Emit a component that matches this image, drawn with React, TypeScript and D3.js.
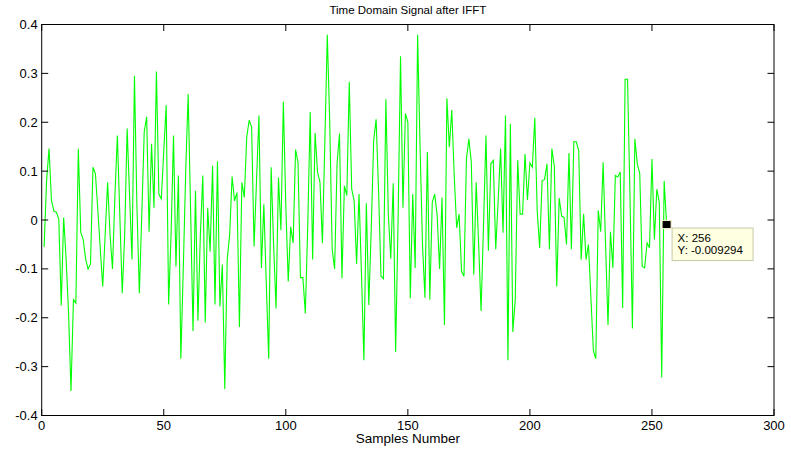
import React from "react";
import * as d3 from "d3";

const signal: number[] = [
  -0.055, 0.08, 0.146, 0.04, 0.018, 0.016, 0.002, -0.175, 0.005, -0.08,
  -0.19, -0.35, -0.163, -0.17, 0.146, -0.025, -0.04, -0.08, -0.1, -0.09,
  0.108, 0.095, 0.02, -0.06, -0.136, -0.03, 0.077, -0.03, -0.1, 0.05,
  0.173, 0.01, -0.15, -0.03, 0.187, 0.05, -0.081, 0.295, 0.03, -0.15,
  0.01, 0.18, 0.211, -0.024, 0.156, 0.025, 0.304, 0.053, 0.043, 0.14,
  0.235, -0.173, -0.03, 0.173, -0.095, 0.091, -0.284, -0.1, 0.1, 0.258,
  0.02, -0.227, 0.06, -0.206, -0.03, 0.091, -0.21, 0.025, -0.065, 0.111,
  -0.173, 0.12, -0.177, -0.091, -0.346, -0.081, -0.03, 0.089, 0.039, 0.056,
  -0.219, 0.077, 0.046, 0.17, 0.204, 0.19, -0.054, 0.08, 0.214, -0.098,
  0.032, -0.13, -0.284, 0.108, -0.05, -0.181, 0.087, -0.021, 0.242, 0.03,
  -0.126, -0.014, -0.047, 0.144, 0.118, -0.118, -0.118, -0.191, -0.01, 0.221,
  -0.081, 0.178, 0.098, 0.077, -0.047, 0.16, 0.379, 0.2, -0.06, -0.1,
  0.115, 0.177, -0.119, 0.07, 0.05, 0.283, 0.063, 0.039, -0.09, 0.053,
  -0.11, -0.287, 0.034, -0.174, -0.02, 0.163, 0.206, 0.06, -0.115, -0.12,
  0.247, 0.012, -0.079, 0.075, -0.27, 0.0, 0.335, 0.025, 0.218, 0.2,
  -0.16, 0.053, -0.098, 0.379, 0.15, -0.05, -0.159, 0.139, -0.163, 0.036,
  0.053, 0.01, -0.1, 0.046, -0.215, 0.249, 0.149, 0.225, 0.09, -0.016,
  0.012, -0.105, -0.115, 0.125, 0.166, 0.118, -0.112, 0.077, -0.05, -0.186,
  -0.01, 0.173, -0.063, 0.115, 0.122, -0.06, 0.04, 0.146, -0.026, 0.214,
  -0.287, 0.197, -0.229, -0.163, 0.122, 0.012, 0.012, 0.135, 0.041, 0.117,
  0.108, 0.209, 0.018, -0.057, 0.08, 0.083, 0.115, -0.06, 0.146, 0.11,
  -0.136, 0.045, 0.008, 0.005, -0.05, 0.137, -0.06, 0.16, 0.16, 0.142,
  -0.081, 0.012, -0.081, -0.05, -0.16, -0.267, -0.284, 0.02, -0.024, 0.118,
  -0.05, -0.215, -0.024, -0.098, 0.091, 0.088, 0.098, -0.18, 0.288, 0.288,
  0.05, -0.222, 0.166, 0.115, 0.095, -0.095, -0.098, -0.047, -0.057, 0.125,
  -0.04, 0.063, 0.036, -0.322, 0.08, -0.009294,
];

const xTicks: number[] = [0, 50, 100, 150, 200, 250, 300];
const yTicks: number[] = [-0.4, -0.3, -0.2, -0.1, 0, 0.1, 0.2, 0.3, 0.4];
const tipIndex = 256;
const title = "Time Domain Signal after IFFT";
const xLabel = "Samples Number";

const W = 791;
const H = 450;
const L = 41.7;
const R = 774;
const T = 24.5;
const B = 415.5;

export default function App() {
  const x = d3.scaleLinear().domain([0, 300]).range([L, R]);
  const y = d3.scaleLinear().domain([-0.4, 0.4]).range([B, T]);
  const line = d3
    .line<number>()
    .x((_, i) => x(i + 1))
    .y((d) => y(d));
  const font = "Liberation Sans, Arial, Helvetica, sans-serif";
  const tl = 6.5;
  const tipVal = signal[tipIndex - 1];
  const tx = x(tipIndex);
  const ty = y(tipVal);
  const fmt = (v: number) => (Math.abs(v) < 1e-9 ? "0" : v.toFixed(1));
  return (
    <svg
      width={W}
      height={H}
      style={{ position: "absolute", left: 0, top: 0, background: "#fff" }}
      fontFamily={font}
    >
      <rect x={0} y={0} width={W} height={H} fill="#fff" />
      <text x={(L + R) / 2} y={14} textAnchor="middle" fontSize={11.5} fill="#000">
        {title}
      </text>
      <path d={line(signal) || ""} fill="none" stroke="#00ff00" strokeWidth={1.1} />
      <rect x={L} y={T} width={R - L} height={B - T} fill="none" stroke="#000" strokeWidth={1} />
      {xTicks.map((t) => (
        <g key={"x" + t}>
          <line x1={x(t)} x2={x(t)} y1={B} y2={B - tl} stroke="#000" />
          <line x1={x(t)} x2={x(t)} y1={T} y2={T + tl} stroke="#000" />
          <text x={x(t)} y={B + 14} textAnchor="middle" fontSize={13} fill="#000">
            {t}
          </text>
        </g>
      ))}
      {yTicks.map((t) => (
        <g key={"y" + t}>
          <line x1={L} x2={L + tl} y1={y(t)} y2={y(t)} stroke="#000" />
          <line x1={R} x2={R - tl} y1={y(t)} y2={y(t)} stroke="#000" />
          <text x={L - 4} y={y(t) + 4.5} textAnchor="end" fontSize={13} fill="#000">
            {fmt(t)}
          </text>
        </g>
      ))}
      <text x={(L + R) / 2} y={443} textAnchor="middle" fontSize={13.5} fill="#000">
        {xLabel}
      </text>
      <rect x={tx - 4.5} y={ty - 4} width={9} height={8} fill="#000" stroke="#f5f0c8" strokeWidth={1} />
      <rect x={tx + 5.5} y={ty + 3.5} width={81} height={32.5} fill="#ffffe1" stroke="#c8c8a8" strokeWidth={1} />
      <text x={tx + 11} y={ty + 17.5} fontSize={11.5} fill="#000">
        {"X: " + tipIndex}
      </text>
      <text x={tx + 11} y={ty + 29} fontSize={11.5} fill="#000">
        {"Y: " + tipVal.toFixed(6)}
      </text>
    </svg>
  );
}
